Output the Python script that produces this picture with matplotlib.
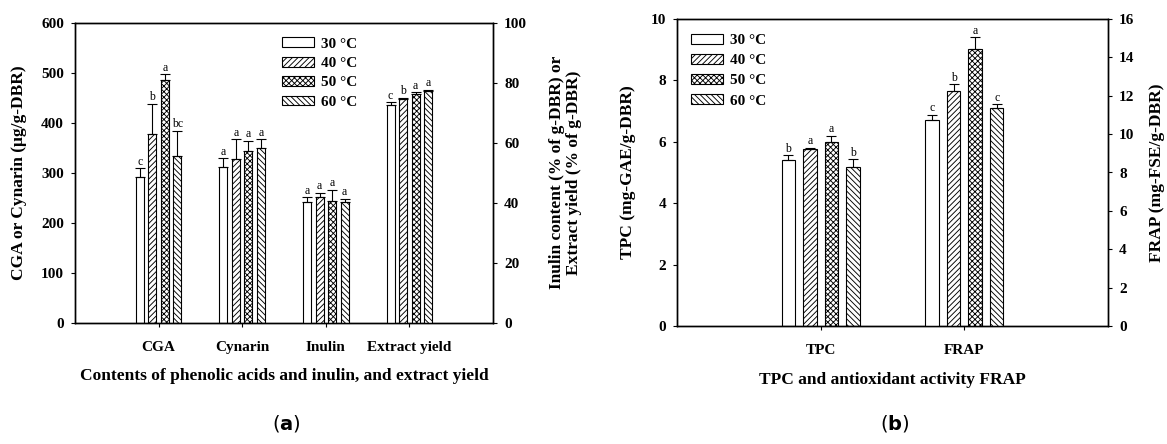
import numpy as np
import matplotlib
matplotlib.use('Agg')
import matplotlib.pyplot as plt

# Extraction temperature series
temps = ['30 °C', '40 °C', '50 °C', '60 °C']
hatches = ['', '//////', 'xxxxxx', '\\\\\\\\\\\\']

# (a) phenolic acids (left axis, ug/g-DBR) and inulin / extract yield (right axis, %)
cats_a = ['CGA', 'Cynarin', 'Inulin', 'Extract yield']
cga_mean = [291, 377, 485, 334]
cga_err = [18, 61, 12, 50]
cga_sig = ['c', 'b', 'a', 'bc']
cyn_mean = [311, 327, 343, 350]
cyn_err = [18, 40, 21, 17]
cyn_sig = ['a', 'a', 'a', 'a']
inu_mean = [40.1, 41.8, 40.6, 40.1]
inu_err = [1.7, 1.5, 3.6, 1.2]
inu_sig = ['a', 'a', 'a', 'a']
yld_mean = [72.6, 74.5, 76.1, 77.2]
yld_err = [0.8, 0.5, 0.7, 0.4]
yld_sig = ['c', 'b', 'a', 'a']

# (b) TPC (left axis) and FRAP (right axis)
cats_b = ['TPC', 'FRAP']
tpc_mean = [5.41, 5.75, 5.98, 5.19]
tpc_err = [0.15, 0.06, 0.21, 0.24]
tpc_sig = ['b', 'a', 'a', 'b']
frap_mean = [10.74, 12.25, 14.44, 11.38]
frap_err = [0.26, 0.35, 0.60, 0.17]
frap_sig = ['c', 'b', 'a', 'c']

plt.rcParams['font.family'] = 'Liberation Serif'
plt.rcParams['hatch.linewidth'] = 0.65
plt.rcParams['mathtext.fontset'] = 'dejavusans'

W, H = 1167, 444
fig = plt.figure(figsize=(W / 100, H / 100), dpi=100)


def box(left, top, right, bottom):
    return [left / W, 1 - bottom / H, (right - left) / W, (bottom - top) / H]


def px(x, y):
    return x / W, 1 - y / H


offsets = [-0.225, -0.075, 0.075, 0.225]
bar_w = 0.095


def draw_group(ax, xc, means, errs, sigs):
    bars = []
    for i in range(4):
        x = xc + offsets[i]
        b = ax.bar(x, means[i], bar_w, color='white', edgecolor='black',
                   linewidth=0.8, hatch=hatches[i], label=temps[i])
        ax.errorbar(x, means[i], yerr=[[0], [errs[i]]], fmt='none',
                    ecolor='black', elinewidth=0.8, capsize=3.5, capthick=0.8)
        ax.annotate(sigs[i], (x, means[i] + errs[i]), xytext=(0, 0.5),
                    textcoords='offset points', ha='center', va='bottom',
                    fontsize=8.5)
        bars.append(b)
    return bars


def style(ax):
    ax.tick_params(direction='out', length=3, width=0.8, labelsize=11, pad=5)
    for lab in ax.get_yticklabels():
        lab.set_fontweight('bold')
    for s in ax.spines.values():
        s.set_linewidth(1.0)


# ---------------- panel (a) ----------------
ax = fig.add_axes(box(75, 22.7, 493, 322.7))
ax2 = ax.twinx()
bars = draw_group(ax, 1, cga_mean, cga_err, cga_sig)
draw_group(ax, 2, cyn_mean, cyn_err, cyn_sig)
draw_group(ax2, 3, inu_mean, inu_err, inu_sig)
draw_group(ax2, 4, yld_mean, yld_err, yld_sig)
ax.set_xlim(0, 5)
ax.set_ylim(0, 600)
ax2.set_ylim(0, 100)
ax.set_yticks(np.arange(0, 601, 100))
ax2.set_yticks(np.arange(0, 101, 20))
ax.set_xticks([1, 2, 3, 4])
ax.set_xticklabels(cats_a, fontweight='bold')
style(ax)
style(ax2)
ax.tick_params(axis='x', pad=10)
ax.legend(handles=bars, loc='upper left', bbox_to_anchor=px(282, 37.5),
          bbox_transform=fig.transFigure, frameon=False, borderpad=0,
          borderaxespad=0, handlelength=2.1, handleheight=0.6,
          handletextpad=0.45, labelspacing=0.4, prop={'weight': 'bold', 'size': 11})

fig.text(*px(19, 172.7), 'CGA or Cynarin (μg/g-DBR)', rotation=90,
         ha='center', va='center', fontsize=12.5, fontweight='bold')
fig.text(*px(565.5, 172.7), 'Inulin content (% of g-DBR) or\nExtract yield (% of g-DBR)',
         rotation=90, ha='center', va='center', fontsize=12.5,
         fontweight='bold', linespacing=1.05)
fig.text(*px(284, 376), 'Contents of phenolic acids and inulin, and extract yield',
         ha='center', va='center', fontsize=12.5, fontweight='bold')
fig.text(*px(286, 423), r'($\mathbf{a}$)', ha='center', va='center',
         fontsize=14, family='DejaVu Sans')

# ---------------- panel (b) ----------------
bx = fig.add_axes(box(677, 19, 1108, 326))
bx2 = bx.twinx()
bars_b = draw_group(bx, 1, tpc_mean, tpc_err, tpc_sig)
draw_group(bx2, 2, frap_mean, frap_err, frap_sig)
bx.set_xlim(0, 3)
bx.set_ylim(0, 10)
bx2.set_ylim(0, 16)
bx.set_yticks(np.arange(0, 11, 2))
bx2.set_yticks(np.arange(0, 17, 2))
bx.set_xticks([1, 2])
bx.set_xticklabels(cats_b, fontweight='bold')
style(bx)
style(bx2)
bx.tick_params(axis='x', pad=10)
bx.legend(handles=bars_b, loc='upper left', bbox_to_anchor=px(691, 34),
          bbox_transform=fig.transFigure, frameon=False, borderpad=0,
          borderaxespad=0, handlelength=2.1, handleheight=0.6,
          handletextpad=0.45, labelspacing=0.45, prop={'weight': 'bold', 'size': 11})

fig.text(*px(628, 172.5), 'TPC (mg-GAE/g-DBR)', rotation=90,
         ha='center', va='center', fontsize=12.5, fontweight='bold')
fig.text(*px(1157, 172.5), 'FRAP (mg-FSE/g-DBR)', rotation=90,
         ha='center', va='center', fontsize=12.5, fontweight='bold')
fig.text(*px(892.5, 380), 'TPC and antioxidant activity FRAP',
         ha='center', va='center', fontsize=12.5, fontweight='bold')
fig.text(*px(895, 423), r'($\mathbf{b}$)', ha='center', va='center',
         fontsize=14, family='DejaVu Sans')

fig.savefig('out.png', dpi=100)
